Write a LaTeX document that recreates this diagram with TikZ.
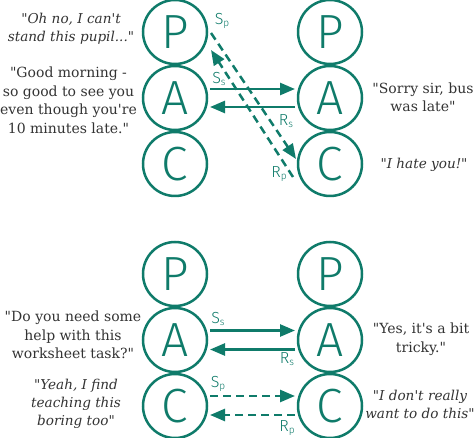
\documentclass[tikz,border=0pt]{standalone}
\usepackage{fontspec}
\setmainfont{DejaVu Serif}[Ligatures=TeXOff]
\newfontfamily\pacfont{Fira Sans Light}
\usetikzlibrary{arrows.meta}
\definecolor{teal1}{HTML}{0F7B6A}
\definecolor{txt}{HTML}{333333}
\tikzset{
 ego/.style={circle, draw=teal1, line width=2.5pt, minimum size=64pt, inner sep=0pt, outer sep=0pt, text=teal1, font=\pacfont\fontsize{48}{48}\selectfont},
 arr/.style={draw=teal1, line width=2.5pt, -{Triangle[length=15pt,width=12pt]}, shorten <=3pt, shorten >=3pt},
 darr/.style={arr, dash pattern=on 8pt off 5pt},
 lbl/.style={text=teal1, font=\pacfont\fontsize{16}{16}\selectfont, inner sep=0pt},
 quote/.style={text=txt, align=center, font=\fontsize{14}{18.5}\selectfont, inner sep=0pt},
 iquote/.style={text=txt, align=center, font=\itshape\fontsize{13.6}{18}\selectfont, inner sep=0pt},
}
\newcommand{\sub}[2]{#1\raisebox{-1.5pt}{\fontsize{10}{10}\selectfont #2}}
\begin{document}
\begin{tikzpicture}[x=1pt,y=-1pt]
\useasboundingbox (0,0) rectangle (474,438);
% top diagram
\node[ego] (tlP) at (175,32) {P};
\node[ego] (tlA) at (175,98) {A};
\node[ego] (tlC) at (175,164) {C};
\node[ego] (trP) at (330,32) {P};
\node[ego] (trA) at (330,98) {A};
\node[ego] (trC) at (330,164) {C};
\draw[arr] ([yshift=9pt]tlA.east) -- ([yshift=9pt]trA.west);
\draw[arr] ([yshift=-9pt]trA.west) -- ([yshift=-9pt]tlA.east);
\coordinate (sp1) at (211,33);
\coordinate (sp2) at (296,159);
\coordinate (rp1) at (293,177);
\coordinate (rp2) at (211,50);
\draw[darr, shorten <=0pt, shorten >=0pt] (sp1) -- (sp2);
\draw[darr, shorten <=0pt, shorten >=0pt] (rp1) -- (rp2);
\node[lbl] (tSp) at (222,21) {\sub{S}{p}};
\node[lbl] (tSs) at (219,79) {\sub{S}{s}};
\node[lbl] (tRs) at (286,121) {\sub{R}{s}};
\node[lbl] (tRp) at (279,174) {\sub{R}{p}};
\node[iquote] (q1) at (71,29) {"Oh no, I can't\\stand this pupil..."};
\node[quote] (q2) at (68.5,100.5) {"Good morning -\\so good to see you\\even though you're\\10 minutes late."};
\node[quote] (q3) at (423,97.5) {"Sorry sir, bus\\was late"};
\node[iquote] (q4) at (424,165) {"I hate you!"};
% bottom diagram
\node[ego] (blP) at (175,274) {P};
\node[ego] (blA) at (175,340) {A};
\node[ego] (blC) at (175,406) {C};
\node[ego] (brP) at (330,274) {P};
\node[ego] (brA) at (330,340) {A};
\node[ego] (brC) at (330,406) {C};
\draw[arr] ([yshift=9.5pt]blA.east) -- ([yshift=9.5pt]brA.west);
\draw[arr] ([yshift=-9.5pt]brA.west) -- ([yshift=-9.5pt]blA.east);
\draw[darr] ([yshift=10pt]blC.east) -- ([yshift=10pt]brC.west);
\draw[darr] ([yshift=-9pt]brC.west) -- ([yshift=-9pt]blC.east);
\node[lbl] (bSs) at (218,319) {\sub{S}{s}};
\node[lbl] (bRs) at (287,359) {\sub{R}{s}};
\node[lbl] (bSp) at (218,384) {\sub{S}{p}};
\node[lbl] (bRp) at (287,428) {\sub{R}{p}};
\node[quote] (q5) at (73,335) {"Do you need some\\help with this\\worksheet task?"};
\node[iquote] (q6) at (76,404) {"Yeah, I find\\teaching this\\boring too"};
\node[quote] (q7) at (421,339) {"Yes, it's a bit\\tricky."};
\node[iquote] (q8) at (420,404) {"I don't really\\want to do this"};
\end{tikzpicture}
\end{document}
